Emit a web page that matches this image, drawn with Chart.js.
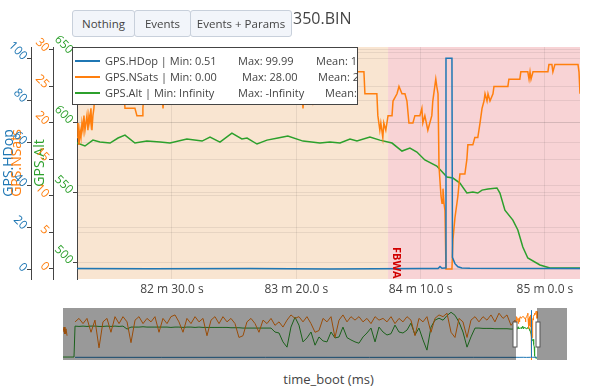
<!DOCTYPE html>
<html lang="en">
<head>
  <meta charset="UTF-8" />
  <title>350.BIN</title>
  <script src="https://cdn.jsdelivr.net/npm/chart.js"></script>
  <style>
    body {
      margin: 0;
      width: 600px;
      height: 386px;
      overflow: hidden;
      position: relative;
      background: #fff;
      font-family: 'Open Sans', sans-serif;
      color: #444;
    }
    #main { position: absolute; left: 0; top: 0; }
    #slider { position: absolute; left: 63px; top: 308px; }
    .btn {
      position: absolute;
      top: 10px;
      height: 27px;
      box-sizing: border-box;
      background: #f2f5fa;
      border: 1px solid #c8d0db;
      border-radius: 3px;
      font-size: 11.5px;
      color: #444;
      display: flex;
      align-items: center;
      justify-content: center;
    }
    .plot-title { position: absolute; left: 293px; top: 7px; font-size: 16px; color: #444; }
    .legend {
      position: absolute;
      left: 72px;
      top: 47px;
      width: 286px;
      height: 58px;
      box-sizing: border-box;
      background: #fff;
      border: 1px solid #444;
      overflow: hidden;
      font-size: 11px;
    }
    .row { position: absolute; left: 0; width: 400px; height: 16px; }
    .row i { position: absolute; left: 2px; top: 7px; width: 25px; height: 2px; }
    .row span { position: absolute; top: 0; line-height: 16px; white-space: nowrap; }
    .x-title { position: absolute; left: 77px; width: 503px; top: 371px; text-align: center; font-size: 13px; line-height: 16px; }
  </style>
</head>
<body>

<canvas id="main" width="600" height="300"></canvas>
<canvas id="slider" width="504" height="52"></canvas>

<div class="btn" style="left:72px;width:63px;">Nothing</div>
<div class="btn" style="left:134px;width:57px;">Events</div>
<div class="btn" style="left:190px;width:102px;">Events + Params</div>
<div class="plot-title">350.BIN</div>

<div class="legend">
  <div class="row" style="top:5px;"><i style="background:#1f77b4"></i><span style="left:32px">GPS.HDop | Min: 0.51</span><span style="left:165px">Max: 99.99</span><span style="left:243px">Mean: 1.27</span></div>
  <div class="row" style="top:21px;"><i style="background:#ff7f0e"></i><span style="left:32px">GPS.NSats | Min: 0.00</span><span style="left:169px">Max: 28.00</span><span style="left:245px">Mean: 22.41</span></div>
  <div class="row" style="top:37px;"><i style="background:#2ca02c"></i><span style="left:32px">GPS.Alt | Min: Infinity</span><span style="left:165px">Max: -Infinity</span><span style="left:252px">Mean: NaN</span></div>
</div>

<div class="x-title">time_boot (ms)</div>

<script>
  // visible window (ms) and full log range shown in the range slider
  const viewStart = 4911800;
  const viewEnd = 5114100;
  const sliderStart = 548100;
  const sliderEnd = 5403100;

  // tick values
  const xTicks = [4950000, 5000000, 5050000, 5100000];
  const hdopTicks = [0, 20, 40, 60, 80, 100];
  const satsTicks = [0, 5, 10, 15, 20, 25, 30];
  const altTicks = [500, 550, 600, 650];

  // flight modes
  const modeStarts = [4900000, 5036900];
  const modeNames = ['', 'FBWA'];
  const modeColors = ['#f9e5d1', '#f8d3d5'];

  // main view data, time in seconds
  const hdopTime = [4911.8, 4941.2, 4981.4, 5013.5, 5049.7, 5057.0, 5057.8, 5058.6, 5059.8, 5060.0,
    5060.2, 5062.6, 5062.8, 5063.8, 5065.0, 5066.6, 5069.8, 5114.1];
  const hdopValue = [0.7, 0.6, 0.7, 0.51, 0.7, 0.7, 1.6, 0.8, 0.9, 0.9,
    99.99, 99.99, 6, 3, 1.5, 1.0, 0.8, 0.7];

  const nsatsTime = [4911.8, 4912.2, 4912.6, 4913.0, 4913.4, 4913.8, 4914.2, 4914.6, 4915.0, 4915.4,
    4915.8, 4916.2, 4916.6, 4917.0, 4917.4, 4917.8, 4918.2, 4918.6, 4919.0, 4920.2,
    4925.1, 4930.7, 4931.1, 4935.1, 4935.9, 4938.0, 4938.3, 4938.7, 4946.0, 4946.4,
    4946.8, 4953.2, 4961.3, 4973.3, 4985.4, 4993.4, 5002.3, 5002.7, 5003.1, 5006.3,
    5006.7, 5007.1, 5013.5, 5021.6, 5024.4, 5027.2, 5027.6, 5032.4, 5032.8, 5033.6,
    5034.0, 5034.8, 5035.2, 5036.0, 5036.9, 5038.5, 5038.9, 5040.5, 5041.3, 5042.5,
    5043.7, 5044.5, 5045.3, 5046.9, 5047.7, 5049.7, 5050.5, 5050.9, 5051.7, 5052.9,
    5054.5, 5054.9, 5055.7, 5056.1, 5056.5, 5057.0, 5057.4, 5058.2, 5058.6, 5059.0,
    5059.4, 5059.8, 5060.2, 5062.6, 5063.0, 5063.8, 5064.6, 5065.0, 5065.8, 5067.8,
    5068.6, 5069.0, 5071.0, 5071.8, 5073.0, 5073.9, 5074.7, 5075.5, 5075.9, 5076.7,
    5077.1, 5077.9, 5079.1, 5079.5, 5085.1, 5085.5, 5089.9, 5090.3, 5093.1, 5093.6,
    5094.0, 5094.4, 5095.2, 5101.2, 5101.6, 5102.8, 5103.2, 5104.0, 5113.3, 5113.7,
    5114.1];
  const nsatsValue = [18, 20, 17, 19, 18, 20, 19, 21, 19, 20,
    21, 19, 21, 20, 22, 19, 21, 22, 24, 25,
    24, 24, 22, 22, 21, 21, 22, 24, 24, 22,
    24, 25, 24, 25, 25, 24, 24, 22, 24, 24,
    23, 24, 25, 26, 27, 27, 24, 24, 21, 19,
    20, 18, 20, 19, 21, 21, 23, 24, 25, 24,
    24, 23, 20, 20, 21, 21, 22, 20, 21, 19,
    21, 23, 25, 26, 25, 24, 14, 10, 9, 11,
    9, 8, 0, 0, 4, 7, 9, 10, 13, 13,
    15, 17, 17, 18, 18, 20, 22, 23, 24, 23,
    24, 23, 24, 25, 25, 26, 26, 27, 27, 26,
    27, 26, 27, 27, 28, 28, 27, 28, 28, 27,
    24];

  const altTime = [4911.8, 4915.0, 4918.2, 4921.0, 4925.1, 4928.3, 4931.1, 4935.1, 4939.9, 4945.2,
    4949.2, 4956.0, 4962.1, 4965.3, 4969.3, 4974.1, 4978.1, 4980.2, 4984.2, 4988.2,
    4992.6, 4996.6, 5002.7, 5009.5, 5013.5, 5017.6, 5021.6, 5024.4, 5029.6, 5033.6,
    5038.5, 5042.5, 5045.7, 5048.5, 5051.7, 5056.5, 5060.6, 5063.0, 5065.8, 5068.6,
    5071.0, 5073.0, 5074.7, 5077.1, 5080.7, 5081.9, 5083.9, 5087.1, 5089.1, 5091.1,
    5093.1, 5098.0, 5102.0, 5114.1];
  const altValue = [585.0, 582.9, 587.1, 585.7, 585.0, 588.6, 590.7, 585.0, 586.4, 585.7,
    585.0, 587.9, 586.4, 589.3, 585.7, 592.1, 587.9, 588.6, 584.3, 587.1,
    588.6, 590.0, 586.4, 585.0, 585.7, 585.0, 587.9, 586.4, 589.3, 587.1,
    585.0, 579.3, 581.4, 578.6, 572.9, 568.6, 560.7, 560.0, 556.4, 549.3,
    550.0, 549.3, 551.4, 552.1, 552.9, 549.3, 537.1, 530.0, 522.9, 510.7,
    502.9, 497.9, 495.7, 495.7];

  // whole-log overview for the range slider (before the visible window), seconds
  const ovTime = [548, 558, 567, 577, 587, 616, 654,
    664, 702, 741, 779, 818, 856, 895, 933, 972, 1010,
    1049, 1088, 1126, 1165, 1203, 1242, 1280, 1319, 1357, 1396,
    1434, 1473, 1511, 1550, 1588, 1627, 1665, 1704, 1742, 1781,
    1820, 1858, 1897, 1935, 1974, 2012, 2051, 2089, 2128, 2166,
    2205, 2243, 2282, 2320, 2359, 2398, 2436, 2475, 2513, 2552,
    2590, 2629, 2667, 2706, 2744, 2783, 2821, 2860, 2898, 2937,
    2976, 3014, 3053, 3091, 3130, 3168, 3207, 3245, 3284, 3322,
    3361, 3399, 3438, 3476, 3515, 3554, 3592, 3631, 3669, 3708,
    3746, 3785, 3823, 3862, 3900, 3939, 3977, 4016, 4054, 4093,
    4131, 4170, 4209, 4247, 4286, 4324, 4363, 4401, 4440, 4478,
    4517, 4555, 4594, 4632, 4671, 4709, 4748, 4787, 4825, 4864,
    4902];
  const ovNsats = [16, 19, 15, 18, 14, null, null,
    22, 24, 21, 24, 16, 23, 7, 22, 24, 16,
    25, 21, 25, 22, 10, 23, 25, 21, 24, 22,
    25, 16, 24, 21, 25, 26, 22, 16, 24, 21,
    25, 22, 24, 14, 23, 25, 21, 25, 22, 24,
    21, 13, 14, 22, 24, 21, 16, 23, 21, 24,
    20, 22, 19, 23, 26, 24, 25, 22, 25, 21,
    16, 17, 24, 22, 25, 13, 23, 26, 22, 25,
    23, 25, 22, 24, 21, 25, 23, 24, 22, 25,
    21, 24, 22, 25, 23, 14, 24, 22, 25, 16,
    24, 26, 25, 27, 16, 13, 24, 22, 13, 23,
    25, 22, 25, 23, 26, 22, 27, 24, 26, 20,
    23];
  const ovAlt = [499, 499, 499, 499, 499, 499, 499,
    593, 592, 593, 592, 593, 593, 592, 592, 593, 592,
    593, 592, 593, 584, 590, 590, 590, 591, 590, 590,
    590, 590, 590, 590, 589, 590, 590, 589, 590, 590,
    589, 590, 589, 589, 589, 589, 589, 589, 589, 588,
    588, 588, 587, 587, 587, 587, 587, 587, 587, 587,
    575, 572, 545, 529, 590, 620, 596, 545, 557, 575,
    535, 560, 548, 545, 575, 557, 560, 590, 558, 551,
    545, 541, 560, 572, 587, 545, 590, 575, 566, 570,
    596, 575, 572, 581, 602, 566, 587, 551, 520, 590,
    611, 617, 611, 625, 635, 626, 605, 575, 529, 560,
    587, 587, 586, 586, 586, 585, 585, 585, 585, 584,
    584];
  const ovHdopTime = [664, 1500, 2500, 3500, 4500, 4902];
  const ovHdopValue = [0.7, 0.6, 0.7, 0.6, 0.7, 0.6];

  const blue = '#1f77b4';
  const orange = '#ff7f0e';
  const green = '#2ca02c';
  const gridColor = 'rgba(0,0,0,0.07)';

  Chart.defaults.font.family = "'Open Sans', sans-serif";
  Chart.defaults.color = '#444';

  const pts = (ts, vs) => ts.map((t, i) => ({ x: Math.round(t * 1000), y: vs[i] }));
  const fixTicks = list => s => { s.ticks = list.map(v => ({ value: v })); };

  const fmtTime = v => {
    const ms = Math.round(v);
    return `${Math.floor(ms / 60000)} m ${((ms % 60000) / 1000).toFixed(1)} s`;
  };

  const modeBands = {
    id: 'modeBands',
    beforeDraw(chart) {
      const { ctx, chartArea: a, scales: { x } } = chart;
      ctx.save();
      modeStarts.forEach((start, i) => {
        const end = i + 1 < modeStarts.length ? modeStarts[i + 1] : viewEnd;
        const x0 = Math.max(a.left, x.getPixelForValue(start));
        const x1 = Math.min(a.right, x.getPixelForValue(end));
        ctx.fillStyle = modeColors[i];
        ctx.fillRect(x0, a.top, x1 - x0, a.bottom - a.top);
      });
      ctx.restore();
    },
    afterDatasetsDraw(chart) {
      const { ctx, chartArea: a, scales: { x } } = chart;
      ctx.save();
      ctx.font = "bold 11px 'Open Sans', sans-serif";
      ctx.fillStyle = '#d10000';
      ctx.textBaseline = 'middle';
      modeStarts.forEach((start, i) => {
        if (!modeNames[i] || start <= viewStart) return;
        ctx.save();
        ctx.translate(x.getPixelForValue(start) + 8, a.bottom - 32);
        ctx.rotate(Math.PI / 2);
        ctx.fillText(modeNames[i], 0, 0);
        ctx.restore();
      });
      ctx.restore();
    }
  };

  const yAxis = (weight, width, min, max, ticks, color, title, titlePad) => ({
    position: 'left',
    weight,
    min,
    max,
    afterBuildTicks: fixTicks(ticks),
    afterFit: s => { s.width = width; },
    ticks: { color, minRotation: -45, font: { size: 12 }, padding: 2 },
    grid: { color: gridColor, tickColor: '#444', tickLength: 4 },
    border: { color: '#444' },
    title: { display: true, text: title, color, font: { size: 14 }, padding: { top: titlePad, bottom: 0 } }
  });

  new Chart(document.getElementById('main'), {
    type: 'line',
    data: {
      datasets: [
        { label: 'GPS.HDop', data: pts(hdopTime, hdopValue), yAxisID: 'yHdop', borderColor: blue, borderWidth: 1.5, pointRadius: 0 },
        { label: 'GPS.NSats', data: pts(nsatsTime, nsatsValue), yAxisID: 'ySats', borderColor: orange, borderWidth: 1.5, pointRadius: 0 },
        { label: 'GPS.Alt', data: pts(altTime, altValue), yAxisID: 'yAlt', borderColor: green, borderWidth: 1.5, pointRadius: 0 }
      ]
    },
    options: {
      responsive: false,
      animation: false,
      events: [],
      layout: { padding: { top: 47, right: 20, bottom: 1, left: 0 } },
      plugins: { legend: { display: false }, tooltip: { enabled: false } },
      scales: {
        x: {
          type: 'linear',
          min: viewStart,
          max: viewEnd,
          afterBuildTicks: fixTicks(xTicks),
          afterFit: s => { s.height = 20; },
          ticks: { autoSkip: false, maxRotation: 0, color: '#444', font: { size: 12 }, padding: 3, callback: fmtTime },
          grid: { color: gridColor, drawTicks: false },
          border: { display: false }
        },
        yHdop: yAxis(3, 31, -4.25, 105.3, hdopTicks, blue, 'GPS.HDop', 1),
        ySats: yAxis(2, 22, -1.37, 30.4, satsTicks, orange, 'GPS.NSats', -22),
        yAlt: yAxis(1, 24, 487.9, 653.6, altTicks, green, 'GPS.Alt', -21)
      }
    },
    plugins: [modeBands]
  });

  const sliderMask = {
    id: 'sliderMask',
    afterDatasetsDraw(chart) {
      const { ctx, chartArea: a, scales: { x } } = chart;
      const w0 = x.getPixelForValue(viewStart);
      const w1 = x.getPixelForValue(viewEnd);
      const h = a.bottom - a.top;
      ctx.save();
      ctx.fillStyle = 'rgba(0,0,0,0.4)';
      ctx.fillRect(a.left, a.top, w0 - a.left, h);
      ctx.fillRect(w1, a.top, a.right - w1, h);
      ctx.fillStyle = '#fff';
      ctx.strokeStyle = '#555';
      ctx.lineWidth = 1;
      [w0 - 1, w1 + 1].forEach(px => {
        ctx.fillRect(px - 2, a.top + 14, 4, 25);
        ctx.strokeRect(px - 2, a.top + 14, 4, 25);
      });
      ctx.restore();
    }
  };

  new Chart(document.getElementById('slider'), {
    type: 'line',
    data: {
      datasets: [
        { data: pts(ovHdopTime.concat(hdopTime), ovHdopValue.concat(hdopValue)), yAxisID: 'yb', borderColor: blue, borderWidth: 1, pointRadius: 0 },
        { data: pts(ovTime.concat(nsatsTime), ovNsats.concat(nsatsValue)), yAxisID: 'ys', borderColor: orange, borderWidth: 1, pointRadius: 0, spanGaps: false },
        { data: pts(ovTime.concat(altTime), ovAlt.concat(altValue)), yAxisID: 'yg', borderColor: green, borderWidth: 1, pointRadius: 0 }
      ]
    },
    options: {
      responsive: false,
      animation: false,
      events: [],
      layout: { padding: 0 },
      plugins: { legend: { display: false }, tooltip: { enabled: false } },
      scales: {
        x: { type: 'linear', min: sliderStart, max: sliderEnd, display: false },
        yb: { min: -5, max: 105, display: false },
        ys: { min: 0, max: 30, display: false },
        yg: { min: 490, max: 648, display: false }
      }
    },
    plugins: [sliderMask]
  });
</script>

</body>
</html>
